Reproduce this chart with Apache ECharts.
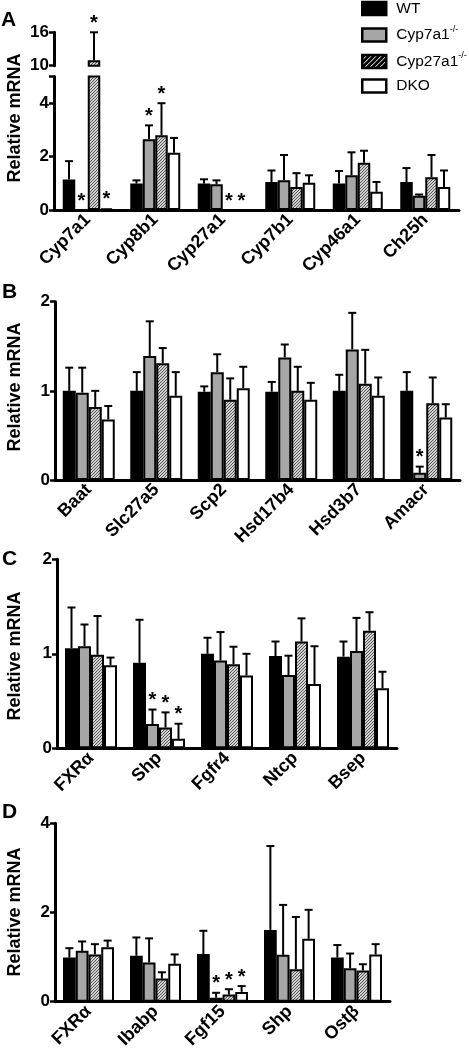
<!DOCTYPE html>
<html><head><meta charset="utf-8">
<script src="https://cdn.jsdelivr.net/npm/echarts@6/dist/echarts.min.js"></script>
<style>html,body{margin:0;padding:0;background:#fff}#c{width:469px;height:1050px}</style>
</head><body><div id="c"></div>
<script>
const FONT = '"Liberation Sans", Arial, sans-serif';
const groups = ['WT', 'Cyp7a1-/-', 'Cyp27a1-/-', 'DKO'];

// Panel A
const aCats = ['Cyp7a1', 'Cyp8b1', 'Cyp27a1', 'Cyp7b1', 'Cyp46a1', 'Ch25h'];
const aWT = [1.14, 0.99, 0.99, 1.05, 0.99, 1.05];
const aWTErr = [1.83, 1.11, 1.15, 1.48, 1.46, 1.57];
const aKO7 = [0, 2.65, 0.96, 1.11, 1.30, 0.53];
const aKO7Err = [0, 3.17, 1.11, 2.06, 2.16, 0.58];
const aKO27 = [11.0, 2.80, 0, 0.86, 1.77, 1.23];
const aKO27Err = [16, 4.0, 0, 1.38, 2.22, 2.06];
const aDKO = [0.05, 2.14, 0, 1.02, 0.68, 0.86];
const aDKOErr = [0.05, 2.70, 0, 1.30, 1.05, 1.48];
const aStars = [[0,0,0,0,0,0],[1,1,0,0,0,0],[1,1,1,0,0,0],[1,0,1,0,0,0]];

// Panel B
const bCats = ['Baat', 'Slc27a5', 'Scp2', 'Hsd17b4', 'Hsd3b7', 'Amacr'];
const bWT = [1.0, 1.0, 0.99, 0.99, 1.0, 1.0];
const bWTErr = [1.26, 1.21, 1.05, 1.10, 1.18, 1.21];
const bKO7 = [0.98, 1.39, 1.21, 1.375, 1.465, 0.08];
const bKO7Err = [1.26, 1.78, 1.41, 1.52, 1.875, 0.15];
const bKO27 = [0.82, 1.31, 0.90, 1.0, 1.08, 0.86];
const bKO27Err = [1.0, 1.48, 1.14, 1.27, 1.46, 1.15];
const bDKO = [0.68, 0.945, 1.03, 0.9, 0.945, 0.70];
const bDKOErr = [0.83, 1.21, 1.27, 1.09, 1.15, 0.85];
const bStars = [[0,0,0,0,0,0],[0,0,0,0,0,1],[0,0,0,0,0,0],[0,0,0,0,0,0]];

// Panel C
const cCats = ['FXRα', 'Shp', 'Fgfr4', 'Ntcp', 'Bsep'];
const cWT = [1.06, 0.905, 1.0, 0.977, 0.97];
const cWTErr = [1.49, 1.36, 1.17, 1.13, 1.13];
const cKO7 = [1.08, 0.257, 0.93, 0.775, 1.03];
const cKO7Err = [1.31, 0.41, 1.23, 0.98, 1.38];
const cKO27 = [0.99, 0.22, 0.89, 1.13, 1.245];
const cKO27Err = [1.40, 0.38, 1.075, 1.375, 1.44];
const cDKO = [0.88, 0.10, 0.77, 0.68, 0.635];
const cDKOErr = [0.96, 0.26, 1.0, 1.08, 0.81];
const cStars = [[0,0,0,0,0],[0,1,0,0,0],[0,1,0,0,0],[0,1,0,0,0]];

// Panel D
const dCats = ['FXRα', 'Ibabp', 'Fgf15', 'Shp', 'Ostβ'];
const dWT = [0.99, 1.03, 1.07, 1.61, 0.99];
const dWTErr = [1.2, 1.44, 1.59, 3.49, 1.27];
const dKO7 = [1.14, 0.88, 0.09, 1.05, 0.75];
const dKO7Err = [1.35, 1.42, 0.2, 2.17, 1.08];
const dKO27 = [1.06, 0.52, 0.16, 0.73, 0.70];
const dKO27Err = [1.29, 0.66, 0.28, 1.9, 0.84];
const dDKO = [1.22, 0.85, 0.22, 1.41, 1.06];
const dDKOErr = [1.37, 1.06, 0.35, 2.06, 1.29];
const dStars = [[0,0,0,0,0],[0,0,1,0,0],[0,0,1,0,0],[0,0,1,0,0]];

// Axis ticks
const aUpperTicks = [10, 16];
const aLowerTicks = [0, 2, 4];
const bTicks = [0, 1, 2];
const cTicks = [0, 1, 2];
const dTicks = [0, 2, 4];

function hatch(bg, fg, step, lw) {
  const c = document.createElement('canvas');
  c.width = step; c.height = step;
  const ctx = c.getContext('2d');
  ctx.fillStyle = bg; ctx.fillRect(0, 0, step, step);
  ctx.strokeStyle = fg; ctx.lineWidth = lw;
  ctx.beginPath();
  ctx.moveTo(0, step); ctx.lineTo(step, 0);
  ctx.moveTo(-2, 2); ctx.lineTo(2, -2);
  ctx.moveTo(step - 2, step + 2); ctx.lineTo(step + 2, step - 2);
  ctx.stroke();
  return c;
}
const barHatch = { image: hatch('#d2d2d2', '#555', 3, 1), repeat: 'repeat' };
const legHatch = { image: hatch('#000', '#fff', 5, 1), repeat: 'repeat' };
const fills = ['#000', '#a6a6a6', barHatch, '#fff'];

function makeErr(k, bw) {
  return function (params, api) {
    const i = api.value(0), v = api.value(1), e = api.value(2), s = api.value(3);
    const cs = params.coordSys;
    const top = cs.y, bot = cs.y + cs.height;
    const p = api.coord([i, v]);
    const cx = p[0] + (k - 1.5) * bw;
    const yv = p[1];
    const ye = api.coord([i, e])[1];
    const ch = [];
    const ls = { stroke: '#000', lineWidth: 2 };
    if (e > v) {
      const y1 = Math.min(Math.max(yv, top), bot);
      const y2 = Math.min(Math.max(ye, top), bot);
      if (y1 - y2 > 0.5) ch.push({ type: 'line', shape: { x1: cx, y1: y1, x2: cx, y2: y2 }, style: ls });
      if (ye >= top - 0.5 && ye <= bot + 0.5) ch.push({ type: 'line', shape: { x1: cx - 4, y1: ye, x2: cx + 4, y2: ye }, style: ls });
    }
    if (s && ye >= top - 0.5 && ye <= bot + 0.5) {
      ch.push({ type: 'text', x: cx, y: ye + 1, style: { text: '*', fontSize: 20, fontWeight: 'bold', fill: '#000', align: 'center', verticalAlign: 'bottom', fontFamily: FONT } });
    }
    return { type: 'group', children: ch };
  };
}

const grids = [
  { left: 54, top: 32.3, width: 405, height: 33.4 },   // A upper (10-16)
  { left: 54, top: 76.5, width: 405, height: 133.5 },  // A lower (0-5)
  { left: 55, top: 301.7, width: 405, height: 178.3 }, // B
  { left: 57, top: 559.3, width: 340, height: 189 },   // C
  { left: 55, top: 823.3, width: 335, height: 178.4 }  // D
].map(g => Object.assign({ containLabel: false, outerBoundsMode: 'none' }, g));

const panels = [
  { g: 0, cats: aCats, vals: [aWT, aKO7, aKO27, aDKO], errs: [aWTErr, aKO7Err, aKO27Err, aDKOErr], stars: aStars, bw: 12.5, min: 10, max: 16, labels: aUpperTicks, ticks: aUpperTicks, showX: false },
  { g: 1, cats: aCats, vals: [aWT, aKO7, aKO27, aDKO], errs: [aWTErr, aKO7Err, aKO27Err, aDKOErr], stars: aStars, bw: 12.5, min: 0, max: 5, labels: aLowerTicks, ticks: [0, 2, 4, 5], showX: true },
  { g: 2, cats: bCats, vals: [bWT, bKO7, bKO27, bDKO], errs: [bWTErr, bKO7Err, bKO27Err, bDKOErr], stars: bStars, bw: 13, min: 0, max: 2, labels: bTicks, ticks: bTicks, showX: true },
  { g: 3, cats: cCats, vals: [cWT, cKO7, cKO27, cDKO], errs: [cWTErr, cKO7Err, cKO27Err, cDKOErr], stars: cStars, bw: 13, min: 0, max: 2, labels: cTicks, ticks: cTicks, showX: true },
  { g: 4, cats: dCats, vals: [dWT, dKO7, dKO27, dDKO], errs: [dWTErr, dKO7Err, dKO27Err, dDKOErr], stars: dStars, bw: 12.75, min: 0, max: 4, labels: dTicks, ticks: dTicks, showX: true }
];

const xAxis = [], yAxis = [], series = [];
panels.forEach(p => {
  xAxis.push({
    type: 'category', gridIndex: p.g, data: p.cats, show: p.showX,
    axisLine: { show: true, lineStyle: { color: '#000', width: 3 } },
    axisTick: { show: false },
    axisLabel: { rotate: 45, interval: 0, margin: 7, fontSize: 18, fontWeight: 'bold', color: '#000', fontFamily: FONT }
  });
  yAxis.push({
    type: 'value', gridIndex: p.g, min: p.min, max: p.max,
    splitLine: { show: false },
    axisLine: { show: true, lineStyle: { color: '#000', width: 3 } },
    axisTick: { show: true, length: 5, customValues: p.ticks, lineStyle: { color: '#000', width: 2.5 } },
    axisLabel: { customValues: p.labels, margin: 5, fontSize: 17, fontWeight: 'bold', color: '#000', fontFamily: FONT }
  });
  for (let k = 0; k < 4; k++) {
    series.push({
      type: 'bar', name: groups[k], xAxisIndex: p.g, yAxisIndex: p.g,
      data: p.vals[k], barWidth: p.bw, barGap: '0%', clip: true,
      itemStyle: { color: fills[k], borderColor: '#000', borderWidth: 2 },
      emphasis: { disabled: true }, silent: true
    });
  }
  for (let k = 0; k < 4; k++) {
    series.push({
      type: 'custom', xAxisIndex: p.g, yAxisIndex: p.g, z: 5, clip: false, silent: true,
      data: p.cats.map((c, i) => [i, p.vals[k][i], p.errs[k][i], p.stars[k][i]]),
      encode: { x: 0, y: 1 },
      renderItem: makeErr(k, p.bw)
    });
  }
});

const titleStyle = { fontSize: 21, fontWeight: 'bold', fill: '#000', fontFamily: FONT, align: 'left', verticalAlign: 'middle' };
const nameStyle = { text: 'Relative mRNA', fontSize: 18, fontWeight: 'bold', fill: '#000', fontFamily: FONT, align: 'center', verticalAlign: 'middle' };
const graphic = [
  { type: 'text', x: 1, y: 20, style: Object.assign({ text: 'A' }, titleStyle) },
  { type: 'text', x: 2, y: 292, style: Object.assign({ text: 'B' }, titleStyle) },
  { type: 'text', x: 2, y: 559, style: Object.assign({ text: 'C' }, titleStyle) },
  { type: 'text', x: 2, y: 812, style: Object.assign({ text: 'D' }, titleStyle) },
  { type: 'text', x: 15, y: 118, rotation: Math.PI / 2, style: Object.assign({}, nameStyle) },
  { type: 'text', x: 15, y: 387, rotation: Math.PI / 2, style: Object.assign({}, nameStyle) },
  { type: 'text', x: 15, y: 656, rotation: Math.PI / 2, style: Object.assign({}, nameStyle) },
  { type: 'text', x: 15, y: 912, rotation: Math.PI / 2, style: Object.assign({}, nameStyle) }
];

const chart = echarts.init(document.getElementById('c'), null, { renderer: 'canvas' });
chart.setOption({
  animation: false,
  backgroundColor: '#fff',
  grid: grids,
  xAxis: xAxis,
  yAxis: yAxis,
  series: series,
  graphic: graphic,
  legend: {
    left: 356, top: -4.5, orient: 'vertical',
    itemWidth: 24, itemHeight: 13, itemGap: 8.5, icon: 'rect',
    selectedMode: false,
    itemStyle: { borderColor: '#000', borderWidth: 2.5 },
    data: groups.map(n => n === 'Cyp27a1-/-' ? { name: n, itemStyle: { color: legHatch, borderColor: '#000', borderWidth: 2.5 } } : { name: n }),
    formatter: n => n.endsWith('-/-') ? '{n|' + n.slice(0, -3) + '}{s|-/-}' : '{n|' + n + '}',
    textStyle: {
      rich: {
        n: { fontSize: 15.5, fontFamily: FONT, color: '#000', lineHeight: 20, padding: [0, 0, 0, 5] },
        s: { fontSize: 9, fontFamily: FONT, color: '#000', verticalAlign: 'top', lineHeight: 11 }
      }
    }
  }
});
</script></body></html>
